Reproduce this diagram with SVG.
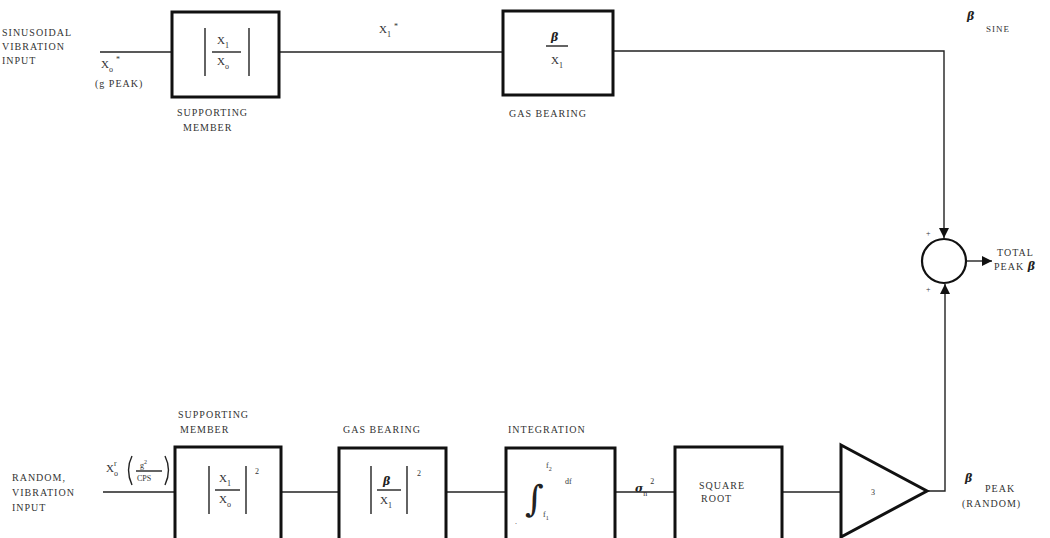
<svg xmlns="http://www.w3.org/2000/svg" width="1050" height="538" viewBox="0 0 1050 538">
<style>
.blk{fill:#fff;stroke:#111;stroke-width:3}
.ln{fill:none;stroke:#222;stroke-width:1.4}
.t{font-family:"Liberation Serif",serif;font-size:10px;fill:#333;letter-spacing:1px}
.m{font-family:"Liberation Serif",serif;font-size:11px;fill:#333}
.s{font-family:"Liberation Serif",serif;font-size:8px;fill:#333;font-style:normal;font-weight:normal}
.b{font-family:"DejaVu Serif",serif;font-size:11px;font-weight:bold;font-style:italic;fill:#222}
.big{font-family:"DejaVu Serif",serif;font-size:36px;fill:#222}
</style>
<defs>
<marker id="ah" viewBox="0 0 10 10" refX="10" refY="5" markerWidth="10" markerHeight="10" markerUnits="userSpaceOnUse" orient="auto">
<path d="M0,0 L10,5 L0,10 z" fill="#111"/>
</marker>
</defs>
<rect width="1050" height="538" fill="#fff"/>
<g id="connectors">
<path class="ln" d="M100,52 H172"/>
<path class="ln" d="M279,52 H503"/>
<path class="ln" d="M613,51 H944 V238" marker-end="url(#ah)"/>
<path class="ln" d="M966,261 H992" marker-end="url(#ah)"/>
<path class="ln" d="M103,492 H175"/>
<path class="ln" d="M281,492 H339"/>
<path class="ln" d="M446,492 H506"/>
<path class="ln" d="M615,492 H675"/>
<path class="ln" d="M782,492 H841"/>
<path class="ln" d="M927,491 H945 V284" marker-end="url(#ah)"/>
</g>
<g id="sin-input">
<text class="t" x="2" y="36">SINUSOIDAL</text>
<text class="t" x="2" y="50">VIBRATION</text>
<text class="t" x="2" y="64">INPUT</text>
<text class="m" x="101" y="68">X<tspan class="s" dy="4">o</tspan><tspan class="s" dx="3" dy="-10">*</tspan></text>
<text class="t" x="95" y="87">(g  PEAK)</text>
</g>
<g id="sup-member-1">
<rect class="blk" x="172" y="12" width="107" height="85"/>
<line class="ln" x1="205" y1="28" x2="205" y2="76"/>
<line class="ln" x1="249" y1="28" x2="249" y2="76"/>
<line class="ln" x1="212" y1="52" x2="241" y2="52"/>
<text class="m" x="217" y="44">X<tspan class="s" dy="4">1</tspan></text>
<text class="m" x="217" y="65">X<tspan class="s" dy="4">o</tspan></text>
<text class="t" x="177" y="116">SUPPORTING</text>
<text class="t" x="183" y="131">MEMBER</text>
</g>
<text class="m" x="379" y="33">X<tspan class="s" dy="4">1</tspan><tspan class="s" dx="3" dy="-8">*</tspan></text>
<g id="gas-bearing-1">
<rect class="blk" x="503" y="11" width="110" height="84"/>
<line class="ln" x1="546" y1="46" x2="568" y2="46"/>
<text class="b" x="551" y="41">β</text>
<text class="m" x="551" y="64">X<tspan class="s" dy="4">1</tspan></text>
<text class="t" x="509" y="117">GAS BEARING</text>
</g>
<g id="beta-sine">
<text class="b" x="967" y="20">β</text>
<text class="s" x="986" y="32" style="font-size:9px;letter-spacing:1px">SINE</text>
</g>
<g id="summer">
<circle cx="944" cy="261" r="22" fill="#fff" stroke="#111" stroke-width="2.2"/>
<text class="s" x="926" y="236">+</text>
<text class="s" x="926" y="292">+</text>
<text class="t" x="997" y="256">TOTAL</text>
<text class="t" x="994" y="270">PEAK <tspan class="b">β</tspan></text>
</g>
<g id="rand-input">
<text class="t" x="12" y="481">RANDOM,</text>
<text class="t" x="12" y="496">VIBRATION</text>
<text class="t" x="12" y="511">INPUT</text>
<text class="m" x="106" y="472">X<tspan class="s" dy="4">o</tspan><tspan class="s" dx="-4" dy="-10">r</tspan></text>
<path class="ln" d="M132,456 Q125,470 132,485"/>
<path class="ln" d="M165,456 Q172,470 165,485"/>
<text class="s" x="140" y="468">g<tspan dy="-4" font-size="6">2</tspan></text>
<line class="ln" x1="136" y1="471" x2="162" y2="471"/>
<text class="s" x="137" y="481">CPS</text>
</g>
<g id="sup-member-2">
<rect class="blk" x="175" y="447" width="106" height="95"/>
<text class="t" x="178" y="418">SUPPORTING</text>
<text class="t" x="180" y="433">MEMBER</text>
<line class="ln" x1="209" y1="466" x2="209" y2="514"/>
<line class="ln" x1="246" y1="466" x2="246" y2="514"/>
<line class="ln" x1="215" y1="490" x2="240" y2="490"/>
<text class="m" x="219" y="482">X<tspan class="s" dy="4">1</tspan></text>
<text class="m" x="219" y="503">X<tspan class="s" dy="4">o</tspan></text>
<text class="s" x="255" y="474">2</text>
</g>
<g id="gas-bearing-2">
<rect class="blk" x="339" y="448" width="107" height="94"/>
<text class="t" x="343" y="433">GAS BEARING</text>
<line class="ln" x1="371" y1="466" x2="371" y2="514"/>
<line class="ln" x1="407" y1="466" x2="407" y2="514"/>
<line class="ln" x1="377" y1="490" x2="401" y2="490"/>
<text class="b" x="383" y="485">β</text>
<text class="m" x="380" y="504">X<tspan class="s" dy="4">1</tspan></text>
<text class="s" x="417" y="476">2</text>
</g>
<g id="integration">
<rect class="blk" x="506" y="448" width="109" height="94"/>
<text class="t" x="508" y="433">INTEGRATION</text>
<text class="big" x="525" y="511">∫</text>
<text class="s" x="546" y="468">f<tspan dy="3" font-size="6">2</tspan></text>
<text class="s" x="543" y="517">f<tspan dy="3" font-size="6">1</tspan></text>
<text class="s" x="565" y="484">df</text>
<text class="s" x="515" y="524">.</text>
</g>
<text class="b" x="635" y="492">σ<tspan class="s" dy="4">n</tspan><tspan class="s" dx="3" dy="-12">2</tspan></text>
<g id="square-root">
<rect class="blk" x="675" y="447" width="107" height="95"/>
<text class="t" x="699" y="489">SQUARE</text>
<text class="t" x="701" y="502">ROOT</text>
</g>
<g id="gain">
<polygon points="841,445 927,491 841,537" fill="#fff" stroke="#111" stroke-width="3" stroke-linejoin="miter"/>
<text class="s" x="871" y="495">3</text>
</g>
<g id="beta-peak">
<text class="b" x="965" y="482">β</text>
<text class="t" x="985" y="492">PEAK</text>
<text class="t" x="962" y="507">(RANDOM)</text>
</g>
</svg>
